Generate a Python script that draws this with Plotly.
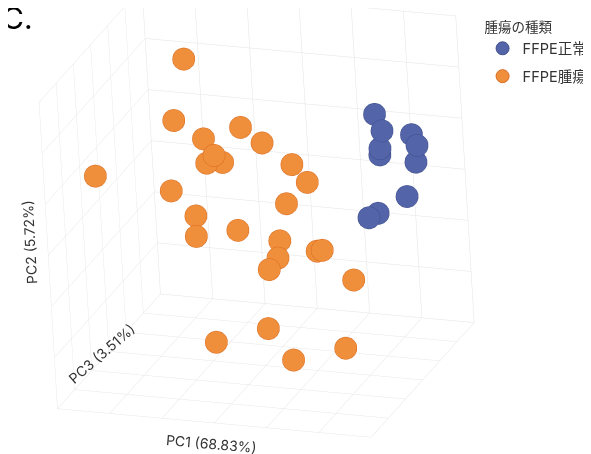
import plotly.graph_objects as go

# Legend / group labels
group_names = ["FFPE正常", "FFPE腫瘍"]
legend_title = "腫瘍の種類"
panel_label = "C."

# FFPE正常 (normal) samples
normal_pc1 = [41.2, 45.8, 48.6, 52.6, 44.6, 40.2, 51.8, 49.7, 40.3, 40.9]
normal_pc2 = [17.8, 15.9, 10.8, 10.0, 12.4, 8.7, 6.7, 1.0, -1.6, -0.2]
normal_pc3 = [9, 6, 18, 15, 6, 12, 15, 12, 9, 3]

# FFPE腫瘍 (tumor) samples
tumor_pc1 = [-26.7, -25.6, -4.3, -16.7, 1.5, -6.7, -13.9, -9.9, 14.6, 22.2, -52.8, -28.2, 11.6,
             -21.4, -19.6, -7.7, 10.3, 11.3, 9.8, 20.2, 26.4, 35.7, 10.2, -8.0, 23.4, 37.4]
tumor_pc2 = [27.7, 19.1, 16.5, 14.8, 12.6, 15.4, 11.3, 10.5, 10.1, 8.1, 9.2, 5.2, 2.3,
             -0.5, -3.3, -3.8, -3.9, -6.1, -7.3, -7.7, -5.0, -11.5, -17.7, -20.1, -21.0, -21.4]
tumor_pc3 = [3, -6, 0, -3, 3, -12, -6, -3, 0, -3, -12, -6, 0,
             -3, -6, 0, -3, -6, -9, 3, -3, 0, -12, -15, -18, -9]

axis_titles = ["PC1 (68.83%)", "PC2 (5.72%)", "PC3 (3.51%)"]
pc1_range = [-60, 60]
pc2_range = [-30, 30]
pc3_range = [-30, 30]

FONT = "Inter, Noto Sans CJK JP, sans-serif"
TITLE_FONT = dict(size=14, color="#333333", family=FONT)

fig = go.Figure()
fig.add_trace(go.Scatter3d(
    x=normal_pc1, y=normal_pc3, z=normal_pc2, mode="markers", name=group_names[0],
    legendgroup="n",
    marker=dict(size=13, color="#5365A8", opacity=1, line=dict(color="#3F4E8C", width=1)),
))
fig.add_trace(go.Scatter3d(
    x=tumor_pc1, y=tumor_pc3, z=tumor_pc2, mode="markers", name=group_names[1],
    legendgroup="t",
    marker=dict(size=13, color="#EF8F3B", opacity=1, line=dict(color="#D96A1E", width=1)),
))

def ax(rng, step):
    vals = []
    v = rng[0]
    while v <= rng[1] + 1e-9:
        vals.append(v)
        v += step
    return dict(
        title=dict(text=""),
        range=rng, tickvals=vals, showticklabels=False, ticks="",
        showgrid=True, gridcolor="#e3e3e3", gridwidth=1,
        zeroline=False, showline=False, showbackground=False,
        showspikes=False, backgroundcolor="white",
    )

fig.update_layout(
    width=591, height=454,
    margin=dict(l=0, r=0, t=0, b=0),
    paper_bgcolor="white",
    font=dict(family=FONT, color="#333333"),
    scene=dict(
        domain=dict(x=[0, 0.883], y=[0, 1.0]),
        xaxis=ax(pc1_range, 20),
        yaxis=ax(pc3_range, 10),
        zaxis=ax(pc2_range, 10),
        aspectmode="manual",
        aspectratio=dict(x=1.4736, y=1.3238, z=1.4678),
        camera=dict(eye=dict(x=0.7316, y=-1.7334, z=0.6786),
                    center=dict(x=0.0575, y=-0.0138, z=-0.0974),
                    up=dict(x=0.0510, y=0.0215, z=1), projection=dict(type="orthographic")),
    ),
    legend=dict(
        title=dict(text=legend_title, font=dict(size=13.5, color="#333333")),
        x=0.803, y=0.985, xanchor="left", yanchor="top",
        font=dict(size=14.5, color="#333333"), itemsizing="trace", tracegroupgap=6,
        bgcolor="rgba(0,0,0,0)",
    ),
    annotations=[
        dict(text=panel_label, xref="paper", yref="paper", x=-0.013, y=0.935,
             xanchor="left", yanchor="bottom", showarrow=False,
             font=dict(size=30, color="black", family="Inter, sans-serif")),
        # axis titles, laid along the labelled cube edges as in the original
        dict(text=axis_titles[0], xref="paper", yref="paper", x=0.3435, y=0.0418,
             xanchor="center", yanchor="middle", showarrow=False, textangle=5,
             font=TITLE_FONT),
        dict(text=axis_titles[1], xref="paper", yref="paper", x=0.0373, y=0.4846,
             xanchor="center", yanchor="middle", showarrow=False, textangle=-93,
             font=TITLE_FONT),
        dict(text=axis_titles[2], xref="paper", yref="paper", x=0.1584, y=0.238,
             xanchor="center", yanchor="middle", showarrow=False, textangle=-41,
             font=TITLE_FONT),
    ],
)

fig.write_html("out.html")
